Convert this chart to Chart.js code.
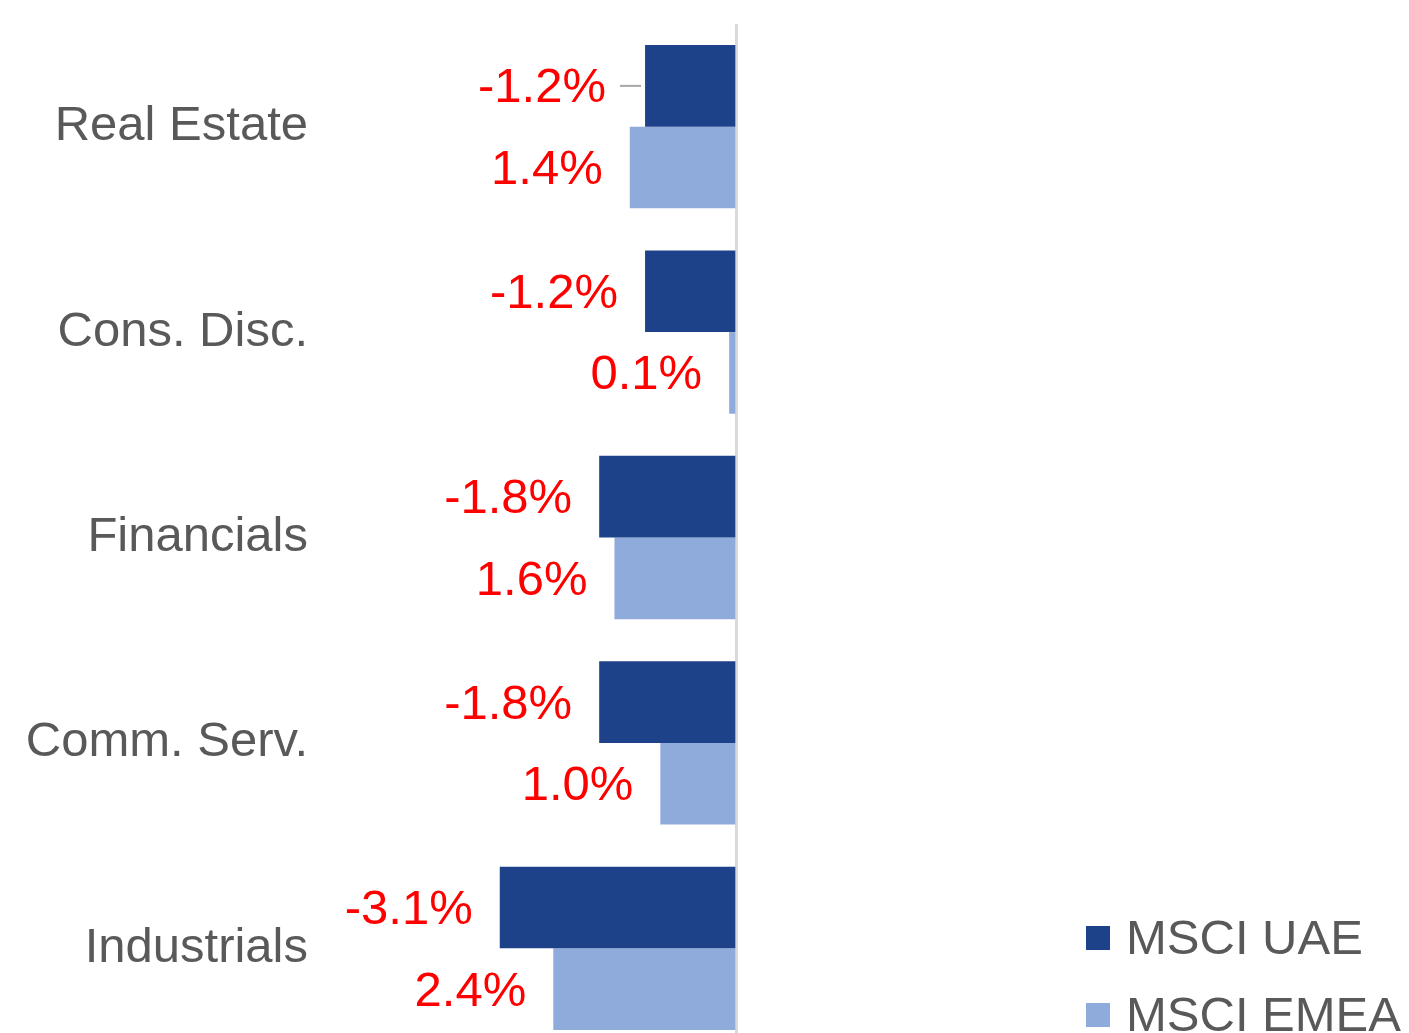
<!DOCTYPE html>
<html>
<head>
<meta charset="utf-8">
<script src="https://cdn.jsdelivr.net/npm/chart.js@4"></script>
<style>
  html, body { margin: 0; padding: 0; background: #fff; overflow: hidden; }
  canvas { display: block; }
</style>
</head>
<body>
<canvas id="myChart" width="1409" height="1060"></canvas>
<script>
const categories = ["Real Estate", "Cons. Disc.", "Financials", "Comm. Serv.", "Industrials"]
const uaeValues = [-1.2, -1.2, -1.8, -1.8, -3.1]
const emeaValues = [1.4, 0.1, 1.6, 1.0, 2.4]
const seriesNames = ["MSCI UAE", "MSCI EMEA"]
const seriesColors = ["#1D4289", "#8FABDC"]

const FONT = "'Liberation Sans', Arial, sans-serif"

// both series are drawn leftwards from the zero line, labels keep the sign
const valueLabels = {
  id: "valueLabels",
  afterDatasetsDraw(chart) {
    const c = chart.ctx
    c.save()
    c.font = "49px " + FONT
    c.textAlign = "right"
    c.textBaseline = "middle"
    chart.data.datasets.forEach((ds, i) => {
      chart.getDatasetMeta(i).data.forEach((bar, j) => {
        let gap = 27
        if (i === 0 && j === 0) {
          // first label was pushed out a bit, with a leader line
          gap = 39
          c.strokeStyle = "#A6A6A6"
          c.lineWidth = 2
          c.beginPath()
          c.moveTo(bar.x - 25, bar.y)
          c.lineTo(bar.x - 4, bar.y)
          c.stroke()
        }
        c.fillStyle = "#FF0000"
        c.fillText(ds.shown[j].toFixed(1) + "%", bar.x - gap, bar.y + 3)
      })
    })
    c.restore()
  }
}

const sideLegend = {
  id: "sideLegend",
  afterDraw(chart) {
    const c = chart.ctx
    c.save()
    c.font = "49px " + FONT
    c.textAlign = "left"
    c.textBaseline = "middle"
    chart.data.datasets.forEach((ds, i) => {
      const y = 938 + i * 77
      c.fillStyle = ds.backgroundColor
      c.fillRect(1086, y - 12, 24, 24)
      c.fillStyle = "#595959"
      c.fillText(ds.label, 1126, y + 2)
    })
    c.restore()
  }
}

const ctx = document.getElementById("myChart")

const myChart = new Chart(ctx, {
  type: "bar",
  data: {
    labels: categories,
    datasets: [
      {
        label: seriesNames[0],
        data: uaeValues.map(v => -Math.abs(v)),
        shown: uaeValues,
        backgroundColor: seriesColors[0],
        borderWidth: 0
      },
      {
        label: seriesNames[1],
        data: emeaValues.map(v => -Math.abs(v)),
        shown: emeaValues,
        backgroundColor: seriesColors[1],
        borderWidth: 0
      }
    ]
  },
  options: {
    indexAxis: "y",
    responsive: false,
    animation: false,
    devicePixelRatio: 1,
    barPercentage: 1,
    categoryPercentage: 0.795,
    layout: { padding: { top: 24, bottom: 9, left: 0, right: 0 } },
    plugins: {
      legend: { display: false },
      tooltip: { enabled: false }
    },
    scales: {
      x: {
        min: -5.32,
        max: 8.79,
        ticks: { display: false, stepSize: 1 },
        border: { display: false },
        grid: {
          drawTicks: false,
          lineWidth: 3,
          color: c => c.tick && c.tick.value === 0 ? "#D9D9D9" : "rgba(0,0,0,0)"
        },
        afterFit: s => {
          s.height = 0
          s.paddingLeft = 0
          s.paddingRight = 0
          s.paddingTop = 0
          s.paddingBottom = 0
        }
      },
      y: {
        grid: { display: false, drawTicks: false },
        border: { display: false },
        ticks: {
          padding: 22,
          color: "#595959",
          font: { size: 49, family: FONT }
        },
        afterFit: s => {
          s.width = 330
          s.paddingTop = 0
          s.paddingBottom = 0
        }
      }
    }
  },
  plugins: [valueLabels, sideLegend]
})
</script>
</body>
</html>
